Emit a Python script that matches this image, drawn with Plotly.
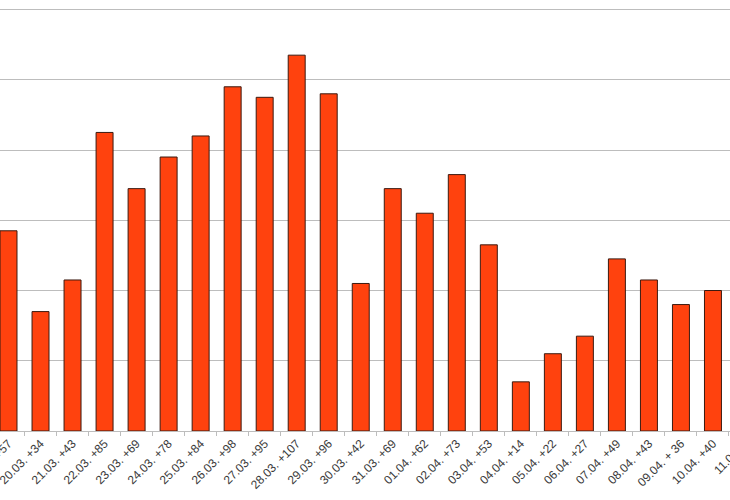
import plotly.graph_objects as go

# daily new cases, label shows date and increment
dates = ["19.03.", "20.03.", "21.03.", "22.03.", "23.03.", "24.03.", "25.03.", "26.03.",
         "27.03.", "28.03.", "29.03.", "30.03.", "31.03.", "01.04.", "02.04.", "03.04.",
         "04.04.", "05.04.", "06.04.", "07.04.", "08.04.", "09.04.", "10.04.", "11.04."]
new_cases = [57, 34, 43, 85, 69, 78, 84, 98, 95, 107, 96, 42, 69, 62, 73, 53,
             14, 22, 27, 49, 43, 36, 40, None]
tick_labels = ["19.03. +57", "20.03. +34", "21.03. +43", "22.03. +85", "23.03. +69",
               "24.03. +78", "25.03. +84", "26.03. +98", "27.03. +95", "28.03. +107",
               "29.03. +96", "30.03. +42", "31.03. +69", "01.04. +62", "02.04. +73",
               "03.04. +53", "04.04. +14", "05.04. +22", "06.04. +27", "07.04. +49",
               "08.04. +43", "09.04. + 36", "10.04. +40", "11.04. +"]
y_ticks = [0, 20, 40, 60, 80, 100, 120]

GRID = "#bdbdbd"
BAR = "#ff420e"

fig = go.Figure(
    go.Bar(
        x=tick_labels,
        y=new_cases,
        marker=dict(color=BAR, line=dict(color="#3b1a10", width=1)),
        width=0.53,
    )
)

# the picture is a crop of a wider chart: plot runs past the right edge
fig.update_xaxes(
    type="category",
    range=[-8.5 / 32, 23.5],
    tickson="boundaries",
    ticks="outside",
    ticklen=4,
    tickcolor=GRID,
    showgrid=False,
    showline=True,
    linecolor=GRID,
    tickangle=-45,
    automargin=False,
    tickfont=dict(family="Liberation Sans, Arial", size=12, color="#3a3a3a"),
)
fig.update_yaxes(
    range=[0, 121],
    tickvals=y_ticks,
    showticklabels=False,
    showgrid=True,
    gridcolor=GRID,
    gridwidth=1,
    zeroline=False,
    automargin=False,
)
fig.update_layout(
    width=761,
    height=500,
    margin=dict(l=0, r=0, t=6, b=69),
    plot_bgcolor="white",
    paper_bgcolor="white",
    showlegend=False,
)

fig.write_html(
    "out.html",
    config={"displayModeBar": False},
    post_script="document.body.style.margin='0';document.body.style.overflow='hidden';",
)
